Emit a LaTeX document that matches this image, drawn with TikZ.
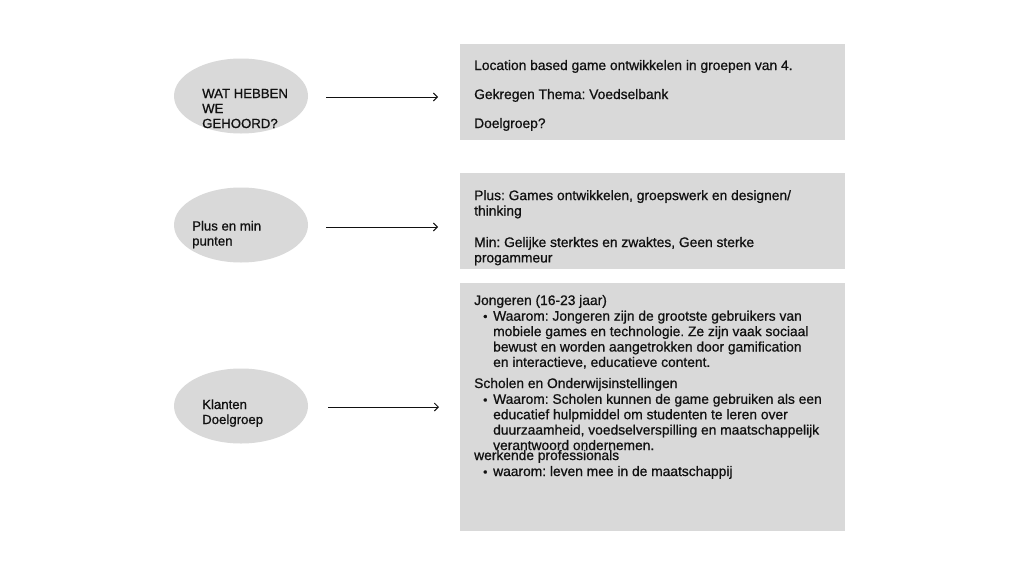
\documentclass[tikz,border=0pt]{standalone}
\usepackage{fontspec}
\setmainfont{Liberation Sans}[FakeBold=0.8]
\usetikzlibrary{shapes.geometric,arrows.meta}
\definecolor{boxgray}{HTML}{D9D9D9}
\definecolor{ink}{HTML}{111111}
\frenchspacing
\begin{document}
\begin{tikzpicture}[x=1pt,y=-1pt,
  oval/.style={ellipse, fill=boxgray, draw=none, minimum width=134pt, minimum height=75pt, inner sep=0},
  panel/.style={rectangle, fill=boxgray, draw=none, anchor=north west, minimum width=385pt, inner sep=0},
  txt/.style={anchor=base west, inner sep=0, font=\fontsize{13.8}{15.4}\selectfont\frenchspacing, text=ink, align=left},
  lbl/.style={anchor=base west, inner sep=0, font=\fontsize{13.2}{15}\selectfont\frenchspacing, text=ink, align=left},
  dot/.style={anchor=base west, inner sep=0, font=\fontsize{12}{15.4}\selectfont, text=ink},
  conn/.style={draw=ink, line width=0.9pt, -{Straight Barb[length=4pt,width=8pt]}}]
\useasboundingbox (0,0) rectangle (1024,576);
\fill[white] (0,0) rectangle (1024,576);

% ellipses
\node[oval] (e1) at (241,96) {};
\node[oval] (e2) at (241,225) {};
\node[oval] (e3) at (241,406) {};
% multi-line nodes: base anchor = baseline of the last line
\node[lbl] (l1) at (202,128) {WAT HEBBEN\\WE\\GEHOORD?};
\node[lbl] (l2) at (192,245.5) {Plus en min\\punten};
\node[lbl] (l3) at (202,424) {Klanten\\Doelgroep};

% panels
\node[panel, minimum height=96pt] (b1) at (460,44) {};
\node[panel, minimum height=96pt] (b2) at (460,173) {};
\node[panel, minimum height=248pt] (b3) at (460,283) {};

% arrows
\coordinate (s1) at (326,97); \coordinate (t1) at (438,97);
\coordinate (s2) at (326,227); \coordinate (t2) at (438,227);
\coordinate (s3) at (328,407); \coordinate (t3) at (439,407);
\draw[conn] (s1) -- (t1);
\draw[conn] (s2) -- (t2);
\draw[conn] (s3) -- (t3);

% panel 1 text
\node[txt] (p1a) at (474,70) {Location based game ontwikkelen in groepen van 4.};
\node[txt] (p1b) at (474,99) {Gekregen Thema: Voedselbank};
\node[txt] (p1c) at (474,128) {Doelgroep?};

% panel 2 text
\node[txt] (p2a) at (474,215.5) {Plus: Games ontwikkelen, groepswerk en designen/\\thinking};
\node[txt] (p2b) at (474,262.4) {Min: Gelijke sterktes en zwaktes, Geen sterke\\progammeur};

% panel 3 text
\node[txt] (h1) at (474,305) {Jongeren (16-23 jaar)};
\node[dot] (d1) at (483,320.5) {•};
\node[txt] (t1a) at (493,366.9) {Waarom: Jongeren zijn de grootste gebruikers van\\mobiele games en technologie. Ze zijn vaak sociaal\\bewust en worden aangetrokken door gamification\\en interactieve, educatieve content.};
\node[txt] (h2) at (474,388) {Scholen en Onderwijsinstellingen};
\node[dot] (d2) at (483,404) {•};
\node[txt] (t2a) at (493,450) {Waarom: Scholen kunnen de game gebruiken als een\\educatief hulpmiddel om studenten te leren over\\duurzaamheid, voedselverspilling en maatschappelijk\\verantwoord ondernemen.};
\node[txt] (h3) at (474,460) {werkende professionals};
\node[dot] (d3) at (483,476) {•};
\node[txt] (t3a) at (493,476) {waarom: leven mee in de maatschappij};
\end{tikzpicture}
\end{document}
